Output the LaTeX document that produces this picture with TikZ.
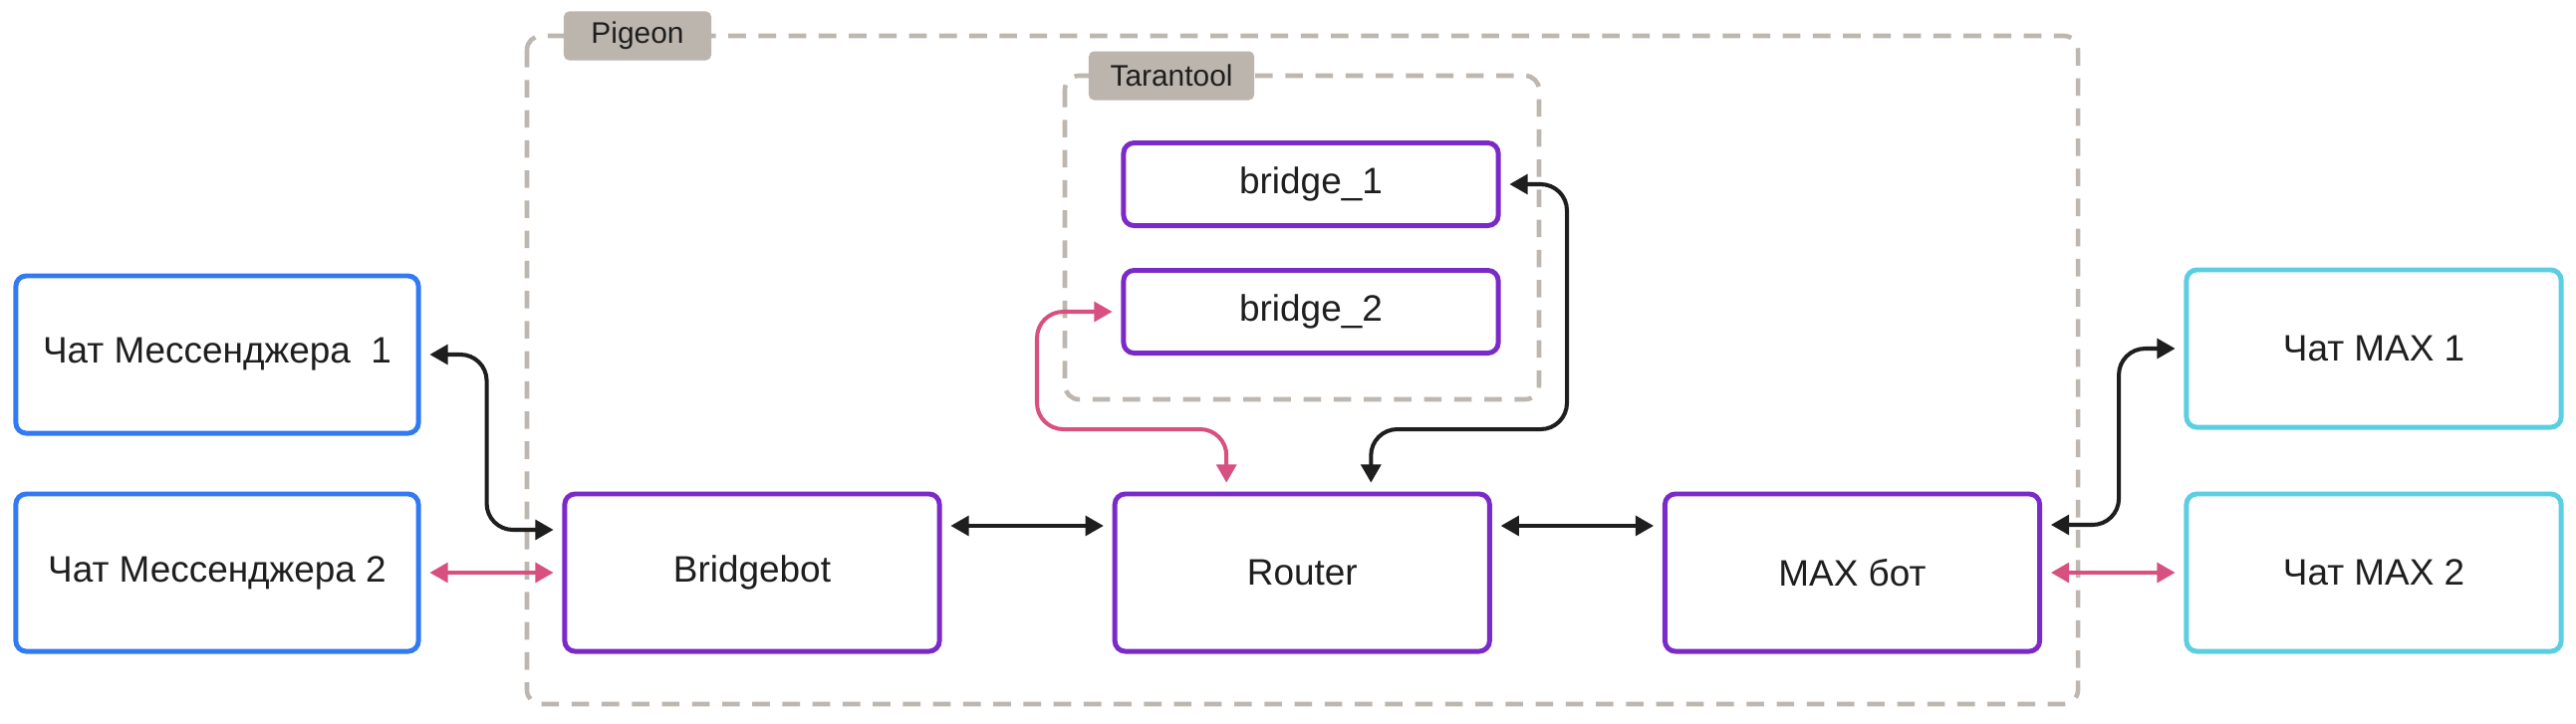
\documentclass[tikz,border=0pt]{standalone}
\usepackage{fontspec}
\setmainfont{Liberation Sans}
\usetikzlibrary{arrows.meta,positioning}
\definecolor{msgblue}{RGB}{50,122,244}
\definecolor{botviolet}{RGB}{122,42,200}
\definecolor{maxcyan}{RGB}{92,206,226}
\definecolor{linkpink}{RGB}{216,80,128}
\definecolor{dashgrey}{RGB}{190,183,176}
\definecolor{tagfill}{RGB}{188,181,174}
\definecolor{ink}{RGB}{30,30,30}

\begin{document}
\begin{tikzpicture}[x=0.01cm,y=-0.01cm,
 box/.style={rounded corners=3pt,minimum height=1.58cm,minimum width=3.76cm,align=center,inner sep=3pt,font=\fontsize{10.5}{12}\selectfont,line width=1.4pt,text=ink},
 chat/.style={box,draw=msgblue,minimum width=4.04cm},
 bot/.style={box,draw=botviolet},
 maxchat/.style={box,draw=maxcyan},
 store/.style={bot,minimum height=.83cm},
 grp/.style={draw=dashgrey,line width=1.3pt,dash pattern=on 5pt off 3.6pt,rounded corners=4pt},
 tag/.style={fill=tagfill,rounded corners=1.5pt,minimum height=.49cm,inner sep=2pt,font=\fontsize{8.5}{10}\selectfont,text=ink},
 arr/.style={{Triangle[length=5.2pt,width=5.6pt]}-{Triangle[length=5.2pt,width=5.6pt]},line width=1.15pt,rounded corners=7.5pt,shorten <=2.5pt,shorten >=2.5pt},
 blk/.style={arr,draw=ink},
 pnk/.style={arr,draw=linkpink}]
\path[use as bounding box,fill=white] (0,0) rectangle (2586,726);
% containers
\draw[grp] (529,36) rectangle (2086,707);
\draw[grp] (1069,76) rectangle (1545,401);
\node[tag,minimum width=1.48cm] (pg) at (640,36) {Pigeon};
\node[tag,minimum width=1.66cm] (tt) at (1176,76) {Tarantool};
% chats and bots
\node[chat] (m1) at (218,356) {Чат Мессенджера~ 1};
\node[chat] (m2) at (218,575) {Чат Мессенджера 2};
\node[bot] (bb) at (755,575) {Bridgebot};
\node[bot,right=1.71cm of bb] (rt) {Router};
\node[bot,right=1.71cm of rt] (mb) {MAX бот};
\node[maxchat] (x1) at (2383,350) {Чат MAX 1};
\node[maxchat] (x2) at (2383,575) {Чат MAX 2};
\node[store] (b1) at (1316,185) {bridge\_1};
\node[store] (b2) at (1316,313) {bridge\_2};
% links
\draw[blk] (m1.east) -- ++(66,0) |- ([yshift=.43cm]bb.west);
\draw[pnk] (m2.east) -- (bb.west);
\draw[blk] ([yshift=.47cm]bb.east) -- ([yshift=.47cm]rt.west);
\draw[blk] ([yshift=.47cm]rt.east) -- ([yshift=.47cm]mb.west);
\draw[blk] ([yshift=.48cm]mb.east) -- ++(77,0) |- (x1.west);
\draw[pnk] (mb.east) -- (x2.west);
\draw[pnk] (b2.west) -| (1041,431) -| ([xshift=-.76cm]rt.north);
\draw[blk] (b1.east) -| (1573,431) -| ([xshift=.69cm]rt.north);
\end{tikzpicture}
\end{document}
